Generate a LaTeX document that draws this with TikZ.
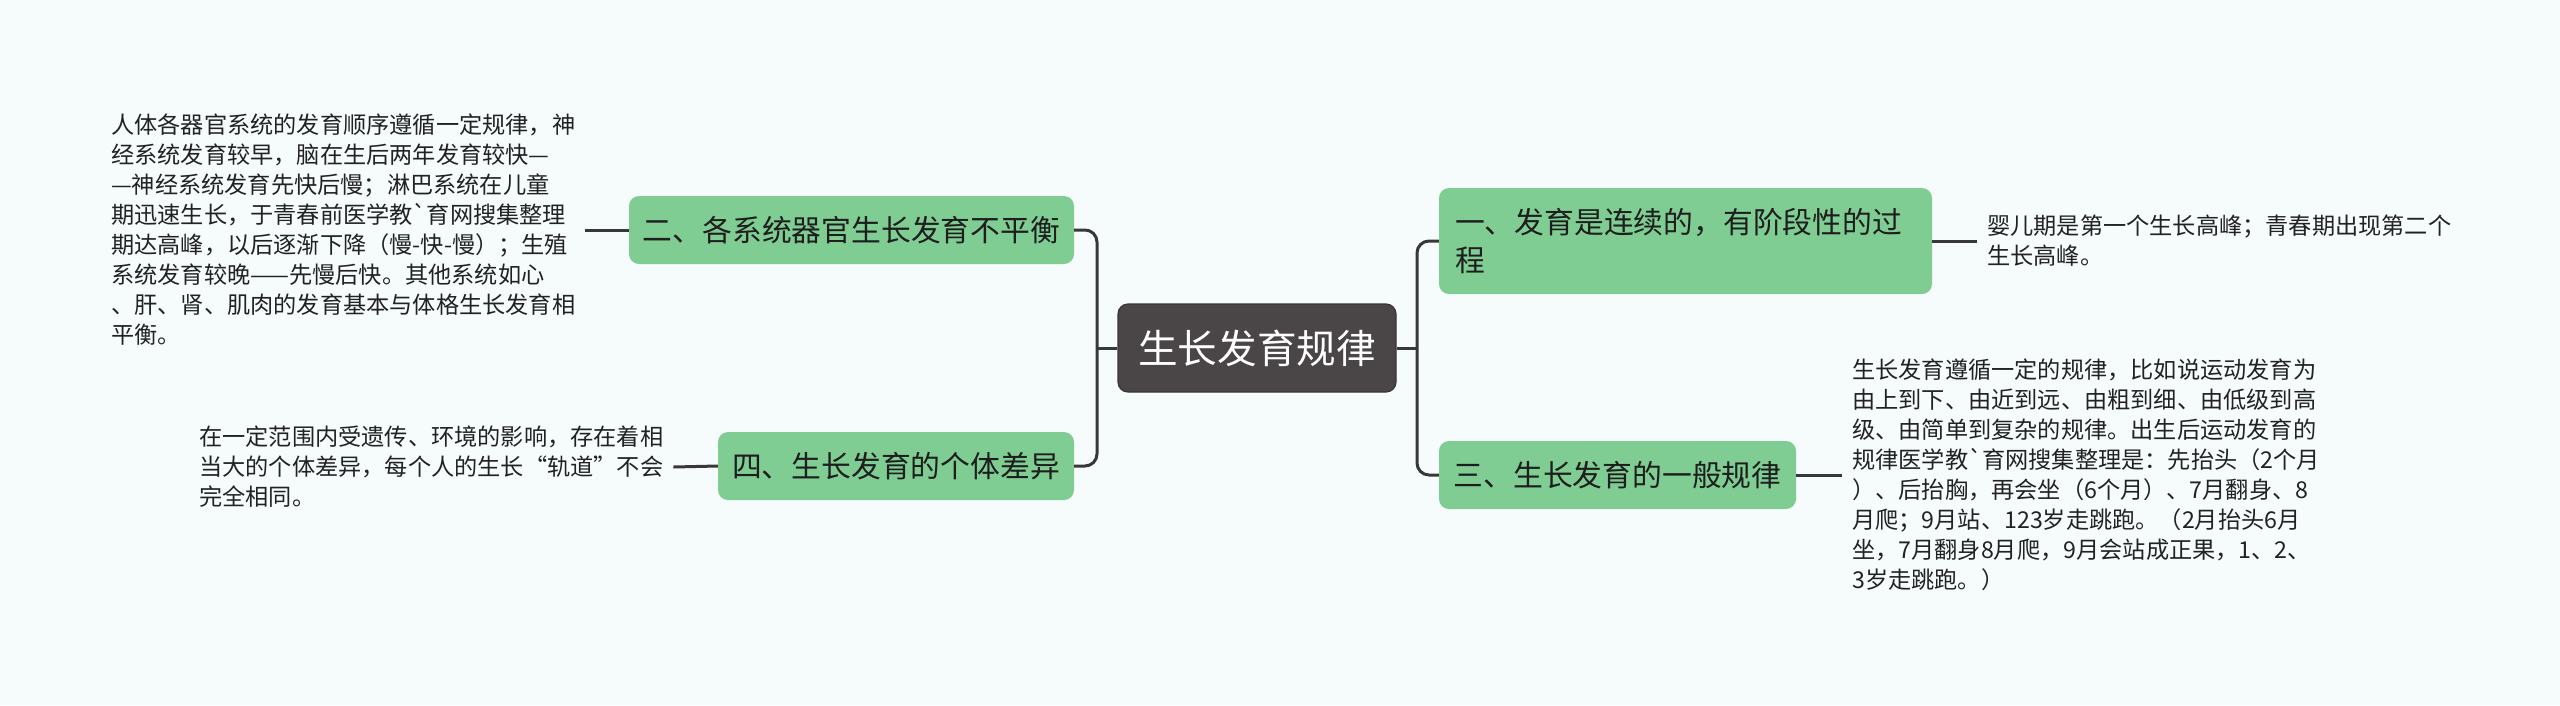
\documentclass[tikz,border=0pt]{standalone}
\usepackage{fontspec}
\setmainfont{Noto Sans CJK SC}[Ligatures=TeXOff]
\definecolor{bgc}{HTML}{F6FBFC}
\definecolor{greenc}{HTML}{80CD93}
\definecolor{rootc}{HTML}{4A4546}
\definecolor{rootb}{HTML}{3A3536}
\definecolor{linec}{HTML}{383838}
\definecolor{textc}{HTML}{1E1E1E}
\definecolor{leafc}{HTML}{222222}
\begin{document}
\begin{tikzpicture}[x=1pt,y=-1pt,
  conn/.style={draw=linec, line width=3pt},
  elbow/.style={draw=linec, line width=3pt, rounded corners=12pt},
  rootbox/.style={fill=rootc, draw=rootb, line width=1.2pt, rounded corners=10pt, text=white,
    font=\fontsize{39.6}{46}\selectfont, inner sep=0pt, minimum width=278pt, minimum height=88pt},
  branch/.style={fill=greenc, rounded corners=10pt, text=textc,
    font=\fontsize{29.8}{38}\selectfont, inner sep=0pt, align=center},
  leaf/.style={text=leafc, font=\fontsize{23.2}{30}\selectfont, align=left,
    inner xsep=10pt, inner ysep=0pt, anchor=west},
]
\useasboundingbox[fill=bgc] (0,0) rectangle (2560,705);

\node[rootbox] (root) at (1257,348) {生长发育规律};

\node[branch, minimum width=445pt, minimum height=68pt] (two) at (851.5,230) {二、各系统器官生长发育不平衡};
\node[branch, minimum width=356pt, minimum height=68pt] (four) at (896,466) {四、生长发育的个体差异};
\node[branch, text width=461pt, align=left, inner xsep=16pt, minimum height=106pt] (one) at (1685.5,241) {一、发育是连续的，有阶段性的过\\程};
\node[branch, minimum width=357pt, minimum height=68pt] (three) at (1617.5,475) {三、生长发育的一般规律};

\node[leaf] (twoText) at (101,230) {人体各器官系统的发育顺序遵循一定规律，神\\经系统发育较早，脑在生后两年发育较快—\\—神经系统发育先快后慢；淋巴系统在儿童\\期迅速生长，于青春前医学教`育网搜集整理\\期达高峰，以后逐渐下降（慢-快-慢）；生殖\\系统发育较晚——先慢后快。其他系统如心\\、肝、肾、肌肉的发育基本与体格生长发育相\\平衡。};
\node[leaf] (fourText) at (189,467) {在一定范围内受遗传、环境的影响，存在着相\\当大的个体差异，每个人的生长“轨道”不会\\完全相同。};
\node[leaf] (oneText) at (1977,241) {婴儿期是第一个生长高峰；青春期出现第二个\\生长高峰。};
\node[leaf] (threeText) at (1842,475) {生长发育遵循一定的规律，比如说运动发育为\\由上到下、由近到远、由粗到细、由低级到高\\级、由简单到复杂的规律。出生后运动发育的\\规律医学教`育网搜集整理是：先抬头（2个月\\）、后抬胸，再会坐（6个月）、7月翻身、8\\月爬；9月站、123岁走跳跑。（2月抬头6月\\坐，7月翻身8月爬，9月会站成正果，1、2、\\3岁走跳跑。）};

\coordinate (rj) at (1417,348);
\coordinate (lj) at (1097,348);

\draw[conn] (root.east) -- (rj);
\draw[elbow] (rj) |- (one.west);
\draw[elbow] (rj) |- (three.west);
\draw[conn] (root.west) -- (lj);
\draw[elbow] (lj) |- (two.east);
\draw[elbow] (lj) |- (four.east);

\draw[conn] (twoText.east) -- (two.west);
\draw[conn] (fourText.east) -- (four.west);
\draw[conn] (one.east) -- (oneText.west);
\draw[conn] (three.east) -- (threeText.west);
\end{tikzpicture}
\end{document}
